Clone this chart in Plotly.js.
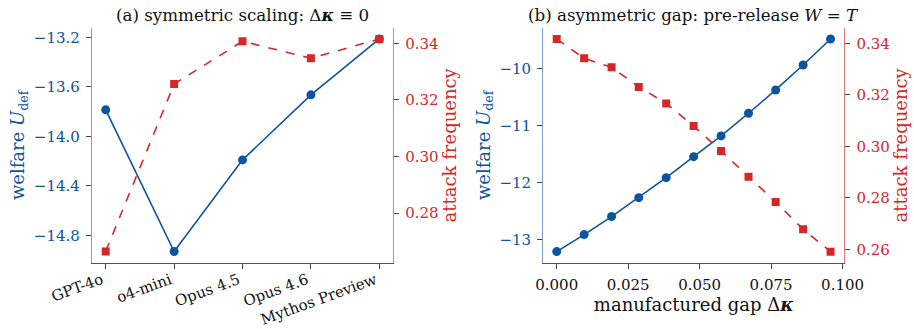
<!DOCTYPE html>
<html><head><meta charset="utf-8">
<script src="https://cdn.plot.ly/plotly-3.0.1.min.js"></script>
<style>html,body{margin:0;padding:0;background:#fff}#c{width:914px;height:329px}</style>
</head><body><div id="c"></div>
<script>
// Panel (a)
const models = ["GPT-4o", "o4-mini", "Opus 4.5", "Opus 4.6", "Mythos Preview"];
const welfareA = [-13.786, -14.93, -14.19, -13.665, -13.214];
const attackA = [0.2665, 0.3256, 0.3407, 0.3347, 0.3415];
// Panel (b)
const gap = [0, 0.0096, 0.0192, 0.0287, 0.0383, 0.0479, 0.0575, 0.0671, 0.0766, 0.0862, 0.0958];
const welfareB = [-13.205, -12.907, -12.59, -12.258, -11.907, -11.539, -11.175, -10.777, -10.368, -9.93, -9.474];
const attackB = [0.3417, 0.3342, 0.3307, 0.3231, 0.3167, 0.3079, 0.2982, 0.2882, 0.2784, 0.2678, 0.2591];
// Ticks
const ticksA = [-14.8, -14.4, -14.0, -13.6, -13.2];
const labelsA = ["−14.8", "−14.4", "−14.0", "−13.6", "−13.2"];
const ticksAR = [0.28, 0.30, 0.32, 0.34];
const labelsAR = ["0.28", "0.30", "0.32", "0.34"];
const ticksB = [-13, -12, -11, -10];
const labelsB = ["−13", "−12", "−11", "−10"];
const ticksBR = [0.26, 0.28, 0.30, 0.32, 0.34];
const labelsBR = ["0.26", "0.28", "0.30", "0.32", "0.34"];
const ticksX = [0, 0.025, 0.05, 0.075, 0.1];
const labelsX = ["0.000", "0.025", "0.050", "0.075", "0.100"];

const BLUE = "#0c53a0", RED = "#d62728";
const F = "DejaVu Serif";
const welfareTitle = "welfare <i>U</i><sub>def</sub>";

const traces = [
  {x: models, y: welfareA, xaxis: "x", yaxis: "y", mode: "lines+markers", line: {color: BLUE, width: 1.6}, marker: {color: BLUE, size: 9, symbol: "circle"}},
  {x: models, y: attackA, xaxis: "x", yaxis: "y2", mode: "lines+markers", line: {color: RED, width: 1.6, dash: "dash"}, marker: {color: RED, size: 8, symbol: "square"}},
  {x: gap, y: welfareB, xaxis: "x2", yaxis: "y3", mode: "lines+markers", line: {color: BLUE, width: 1.6}, marker: {color: BLUE, size: 9, symbol: "circle"}},
  {x: gap, y: attackB, xaxis: "x2", yaxis: "y4", mode: "lines+markers", line: {color: RED, width: 1.6, dash: "dash"}, marker: {color: RED, size: 8, symbol: "square"}}
];

const tickFont = c => ({family: F, size: 15, color: c});
const baseX = {showgrid: false, zeroline: false, showline: true, linecolor: "#555", linewidth: 1, ticks: "outside", ticklen: 5, tickcolor: "#444", mirror: false};
const leftY = (vals, labels, range) => ({showgrid: false, zeroline: false, showline: true, linecolor: "#7ea0cf", linewidth: 1.2, ticks: "outside", ticklen: 5, tickcolor: "#444", tickvals: vals, ticktext: labels, ticklabelstandoff: 3, range: range, tickfont: tickFont(BLUE), title: {text: welfareTitle, font: {family: F, size: 18, color: BLUE}, standoff: 4}});
const rightY = (vals, labels, range, ov, anc) => ({overlaying: ov, side: "right", anchor: anc, showgrid: false, zeroline: false, showline: true, linecolor: "#e07a7a", linewidth: 1.2, ticks: "outside", ticklen: 5, tickcolor: "#444", tickvals: vals, ticktext: labels, ticklabelstandoff: 3, range: range, tickfont: tickFont(RED), title: {text: "attack frequency", font: {family: F, size: 18, color: RED}, standoff: 4}});

const layout = {
  width: 914, height: 329, margin: {l: 0, r: 0, t: 0, b: 0}, showlegend: false,
  paper_bgcolor: "#fff", plot_bgcolor: "#fff", font: {family: F, color: "#111"},
  xaxis: Object.assign({}, baseX, {domain: [0.1007, 0.43], anchor: "y", range: [-0.2, 4.2], tickangle: -20, ticklabelshift: -4, ticklabelstandoff: -3, tickfont: tickFont("#111")}),
  yaxis: Object.assign(leftY(ticksA, labelsA, [-15.02, -13.125]), {anchor: "x", domain: [0.2015, 0.915]}),
  yaxis2: rightY(ticksAR, labelsAR, [0.2625, 0.3454], "y", "x"),
  xaxis2: Object.assign({}, baseX, {domain: [0.5944, 0.9237], anchor: "y3", range: [-0.0047, 0.1006], tickvals: ticksX, ticktext: labelsX, ticklabelstandoff: 3, tickfont: tickFont("#111"), title: {text: "manufactured gap Δ<b><i>κ</i></b>", font: {family: F, size: 18, color: "#111"}, standoff: 4}}),
  yaxis3: Object.assign(leftY(ticksB, labelsB, [-13.40, -9.28]), {anchor: "x2", domain: [0.2015, 0.915]}),
  yaxis4: rightY(ticksBR, labelsBR, [0.2548, 0.346], "y3", "x2"),
  annotations: [
    {text: "(a) symmetric scaling: Δ<b><i>κ</i></b> ≡ 0", xref: "paper", yref: "paper", x: 0.2654, y: 1 - 15/329, xanchor: "center", yanchor: "middle", showarrow: false, font: {family: F, size: 16.7, color: "#111"}},
    {text: "(b) asymmetric gap: pre-release <i>W</i> = <i>T</i>", xref: "paper", yref: "paper", x: 0.759, y: 1 - 15/329, xanchor: "center", yanchor: "middle", showarrow: false, font: {family: F, size: 16.7, color: "#111"}}
  ]
};
Plotly.newPlot("c", traces, layout, {displayModeBar: false, staticPlot: true});
</script></body></html>
